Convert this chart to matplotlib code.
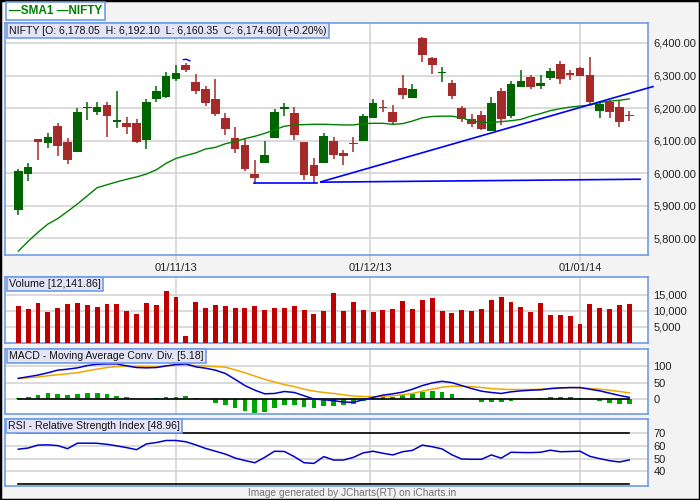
import numpy as np
import matplotlib
matplotlib.use('Agg')
import matplotlib.pyplot as plt
from matplotlib.patches import Rectangle

plt.rcParams['font.family'] = ['Liberation Sans', 'DejaVu Sans']

# ---------------------------------------------------------------------------
# DATA (one value per trading day)
# ---------------------------------------------------------------------------
opens = [5887, 5998, 6104, 6091, 6145, 6096, 6066, 6199, 6189, 6210,
         6158, 6154, 6154, 6103, 6229, 6234, 6288, 6333, 6281, 6259,
         6228, 6170, 6107, 6086, 5997, 6032, 6109, 6196, 6185, 6096,
         6025, 6032, 6099, 6062, 6091, 6099, 6168, 6204, 6188, 6262,
         6232, 6416, 6354, 6308, 6278, 6201, 6166, 6179, 6128, 6253,
         6176, 6266, 6296, 6269, 6291, 6336, 6307, 6324, 6302, 6192,
         6219, 6204, 6178.05]
highs = [6012, 6031, 6106, 6123, 6154, 6108, 6201, 6219, 6219, 6219,
         6253, 6173, 6167, 6228, 6268, 6310, 6332, 6340, 6306, 6268,
         6290, 6184, 6142, 6107, 6040, 6098, 6196, 6217, 6204, 6096,
         6046, 6123, 6111, 6072, 6111, 6182, 6229, 6225, 6210, 6302,
         6274, 6418, 6356, 6326, 6287, 6207, 6182, 6191, 6234, 6262,
         6283, 6318, 6301, 6301, 6324, 6346, 6318, 6327, 6358, 6221,
         6224, 6221, 6192.10]
lows = [5872, 5975, 6041, 6077, 6054, 6029, 6066, 6162, 6180, 6112,
        6140, 6120, 6091, 6075, 6219, 6231, 6284, 6310, 6242, 6205,
        6177, 6118, 6063, 6007, 5965, 6032, 6107, 6177, 6103, 5979,
        5969, 6032, 6044, 6026, 6066, 6099, 6168, 6188, 6147, 6228,
        6230, 6343, 6306, 6279, 6229, 6158, 6143, 6132, 6128, 6149,
        6168, 6266, 6260, 6257, 6287, 6273, 6285, 6299, 6210, 6168,
        6168, 6143, 6160.35]
closes = [6006, 6019, 6094, 6110, 6084, 6041, 6188, 6204, 6204, 6176,
          6164, 6143, 6097, 6219, 6253, 6299, 6309, 6316, 6251, 6214,
          6183, 6137, 6075, 6013, 5986, 6057, 6188, 6204, 6118, 5995,
          5992, 6114, 6057, 6054, 6089, 6176, 6216, 6200, 6158, 6239,
          6259, 6362, 6331, 6310, 6236, 6165, 6152, 6137, 6216, 6165,
          6275, 6284, 6266, 6278, 6315, 6288, 6303, 6299, 6220, 6211,
          6189, 6158, 6174.60]
sma1 = [5760, 5790, 5818, 5843, 5860, 5882, 5905, 5930, 5955, 5964,
        5973, 5981, 5988, 5997, 6010, 6030, 6045, 6054, 6062, 6074,
        6079, 6090, 6097, 6106, 6113, 6122, 6133, 6144, 6148, 6149,
        6150, 6150, 6149, 6148, 6148, 6152, 6153, 6153, 6150, 6152,
        6160, 6170, 6174, 6175, 6175, 6170, 6160, 6156, 6156, 6158,
        6161, 6165, 6175, 6183, 6192, 6198, 6203, 6206, 6209, 6217,
        6221, 6224, 6228]
volume = [11563, 10625, 12500, 9688, 10938, 12188, 12500, 11875, 11250, 12188,
          12188, 10000, 9063, 12500, 11875, 16250, 14375, 2188, 12813, 10938,
          11875, 11563, 10938, 10938, 11563, 10313, 10938, 10938, 11563, 10313,
          9063, 10000, 15625, 10000, 12813, 10313, 9688, 10313, 10625, 13125,
          10625, 13438, 14063, 10000, 9375, 10313, 10000, 10625, 13438, 14375,
          12813, 11250, 9688, 12500, 8750, 8750, 8438, 5938, 12188, 10938,
          10625, 11875, 12141.86]
macd = [63, 68, 73, 80, 88, 91, 95, 102, 106, 107,
        107, 101, 96, 95, 96, 101, 105, 107, 98, 94,
        88, 78, 60, 41, 27, 16, 17, 23, 20, 10,
        0, -2, -5, -9, -10, -2, 5, 12, 16, 21,
        30, 41, 49, 54, 50, 41, 32, 24, 20, 17,
        22, 25, 27, 28, 32, 34, 35, 35, 30, 25,
        18, 11, 5.18]
signal = [63, 65, 67, 71, 74, 77, 80, 86, 91, 96,
          99, 100, 99, 99, 98, 100, 104, 104, 102, 101,
          99, 97, 89, 80, 70, 60, 52, 44, 38, 30,
          24, 20, 17, 13, 9, 8, 7, 8, 10, 13,
          17, 24, 30, 36, 39, 39, 38, 35, 32, 30,
          29, 29, 29, 30, 32, 33, 35, 34, 32, 30,
          27, 23, 19]
hist = [4, 6, 12, 18, 15, 12, 15, 18, 18, 15,
        9, 6, 0, 0, 4, 6, 6, 9, 4, 0,
        -11, -17, -26, -35, -41, -38, -26, -17, -17, -23,
        -26, -20, -20, -17, -15, -5, 4, 6, 6, 12,
        16, 21, 24, 20, 15, 3, 0, -8, -8, -8,
        -5, 0, 0, 3, 6, 6, 6, 3, 0, -5,
        -11, -14, -14]
rsi = [57.4, 58.3, 60.6, 60.8, 60.2, 57.8, 62.1, 62.1, 62.0, 61.2,
       60.0, 58.6, 57.0, 61.5, 62.6, 64.2, 64.2, 63.2, 60.8, 58.0,
       55.8, 53.6, 50.5, 48.5, 46.8, 51.0, 55.8, 55.6, 51.6, 46.8,
       46.3, 51.6, 48.9, 48.9, 51.0, 54.5, 55.8, 54.2, 52.9, 55.4,
       56.5, 60.6, 59.3, 57.6, 53.0, 49.7, 49.5, 49.5, 52.9, 50.4,
       55.0, 54.8, 54.7, 55.0, 56.6, 55.4, 55.6, 55.8, 51.8, 50.0,
       48.4, 47.4, 48.96]

# month boundaries (positions in trading-day units) and labels
date_pos = [16, 35.7, 57]
date_labels = ['01/11/13', '01/12/13', '01/01/14']

# drawn trendlines (x in trading days, y in index points)
support_x, support_y = [23.9, 30.3], [5968, 5968]
trend_up_x, trend_up_y = [30.7, 64.4], [5973, 6266]
trend_flat_x, trend_flat_y = [30.7, 63.1], [5972, 5981]
mark_x, mark_y = [16.75, 17.05, 17.4], [6349, 6350, 6345]

# ---------------------------------------------------------------------------
# STYLE / LAYOUT
# ---------------------------------------------------------------------------
W, H = 700, 500
BG = '#f3f3f3'
BORDER = '#6f9be8'
GRID = '#d4d4d4'
UP = '#006400'
DOWN = '#a52a2a'
XLIM = (-1.35, 63.9)
n = len(closes)
x = np.arange(n)


def make_ax(top, bottom, left=5, right=648):
    ax = fig.add_axes([left / W, 1 - bottom / H, (right - left) / W, (bottom - top) / H])
    ax.set_facecolor('white')
    for s in ax.spines.values():
        s.set_color(BORDER)
        s.set_linewidth(1.2)
    ax.set_xlim(*XLIM)
    ax.set_xticks(date_pos)
    ax.yaxis.tick_right()
    ax.tick_params(length=0, labelsize=8, colors='#222222', pad=4)
    ax.grid(True, color=GRID, linewidth=1.2)
    ax.set_axisbelow(True)
    return ax


def title_box(px, py, s, size=8):
    fig.text(px / W, 1 - py / H, s, ha='left', va='center', fontsize=size,
             color='#111111', zorder=10,
             bbox=dict(boxstyle='square,pad=0.22', fc='#e4e4f8', ec=BORDER, lw=1.2))


fig = plt.figure(figsize=(7, 5), dpi=100)
fig.patch.set_facecolor(BG)
fig.patches.append(Rectangle((0, 0), 1, 1, transform=fig.transFigure, fill=False,
                             ec='black', lw=2.5))

# --- main price panel ---
ax = make_ax(23, 255)
ax.set_ylim(5748, 6461.5)
ax.set_yticks(np.arange(5800, 6401, 100))
ax.set_yticklabels([f'{v:,.2f}' for v in np.arange(5800, 6401, 100)])
ax.set_xticklabels(date_labels)
ax.tick_params(axis='x', length=5, width=1.2, color=GRID, pad=1)

o, h, l, c = map(np.array, (opens, highs, lows, closes))
cols = np.where(c >= o, UP, DOWN)
ax.vlines(x, l, h, colors=cols, linewidth=1.1, zorder=2)
body = np.maximum(np.abs(c - o), 3)
ax.bar(x, body, bottom=np.minimum(o, c), width=0.88, color=cols, zorder=3)
ax.plot(x, sma1, color='#008000', linewidth=1, zorder=4)
ax.plot(support_x, support_y, color='#0000ff', linewidth=1.2, zorder=5)
ax.plot(trend_flat_x, trend_flat_y, color='#0000ff', linewidth=1.2, zorder=5)
ax.plot(trend_up_x, trend_up_y, color='#0000ff', linewidth=1.2, zorder=5, clip_on=False)
ax.plot(mark_x, mark_y, color='#0000ff', linewidth=1, zorder=5)

# --- volume panel ---
axv = make_ax(277, 343)
axv.set_ylim(0, 20625)
axv.set_yticks([5000, 10000, 15000])
axv.set_yticklabels(['5,000', '10,000', '15,000'])
axv.set_xticklabels([])
axv.bar(x, volume, width=0.5, color='#c00000', zorder=3)

# --- MACD panel ---
axm = make_ax(349, 414)
axm.set_ylim(-45.5, 152.4)
axm.set_yticks([0, 50, 100])
axm.set_xticklabels([])
axm.bar(x, hist, width=0.48, color='#00a400', zorder=3)
axm.plot([0, n - 1], [0, 0], color='black', linewidth=1.2, zorder=4)
axm.plot(x, signal, color='#f0a800', linewidth=1.1, zorder=5)
axm.plot(x, macd, color='#0000cc', linewidth=1.1, zorder=6)

# --- RSI panel ---
axr = make_ax(419, 485.5)
axr.set_ylim(29, 81)
axr.set_yticks([40, 50, 60, 70])
axr.set_xticklabels([])
axr.plot([0, n - 1], [70, 70], color='black', linewidth=1.2, zorder=4)
axr.plot([0, n - 1], [30, 30], color='black', linewidth=1.2, zorder=4)
axr.plot(x, rsi, color='#0000cc', linewidth=1.1, zorder=5)

# --- labels ---
fig.text(9 / W, 1 - 11 / H, '\u2014SMA1 \u2014NIFTY', ha='left', va='center',
         fontsize=8.5, fontweight='bold', color='#008000',
         bbox=dict(boxstyle='square,pad=0.25', fc='white', ec=BORDER, lw=1.2))
title_box(9, 30.5, 'NIFTY [O: 6,178.05  H: 6,192.10  L: 6,160.35  C: 6,174.60] (+0.20%)', 7.6)
title_box(9, 284, 'Volume [12,141.86]', 7.7)
title_box(9, 356, 'MACD - Moving Average Conv. Div. [5.18]', 7.6)
title_box(8, 426, 'RSI - Relative Strength Index [48.96]', 7.6)
fig.text(352 / W, 1 - 493 / H, 'Image generated by JCharts(RT) on iCharts.in',
         ha='center', va='center', fontsize=7.3, color='#707070')

fig.savefig('out.png', dpi=100, facecolor=fig.get_facecolor())
